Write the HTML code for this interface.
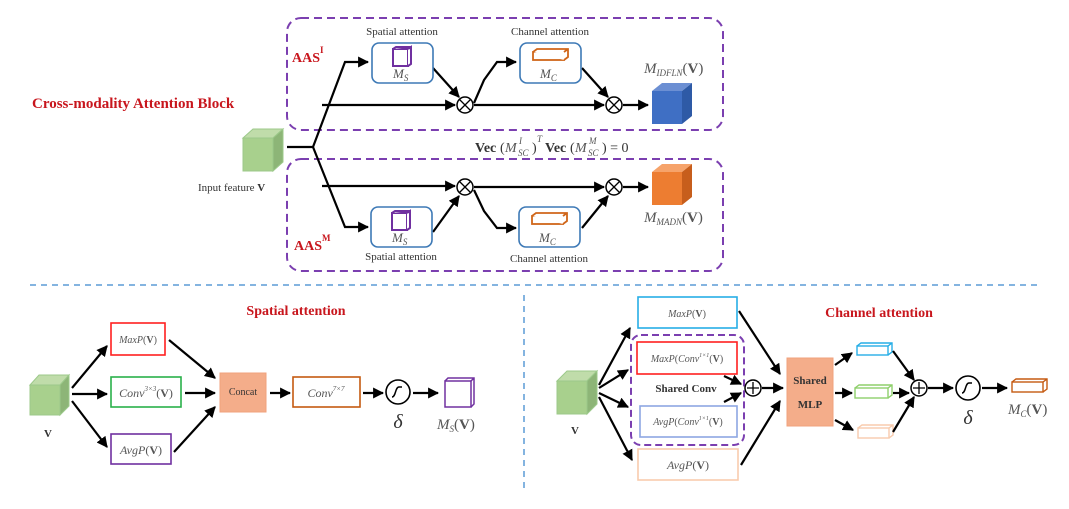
<!DOCTYPE html>
<html><head><meta charset="utf-8"><style>
html,body{margin:0;padding:0;background:#fff;}
svg{display:block;}
.m{font-family:"Liberation Serif",serif;font-style:italic;fill:#555;}
.t{font-family:"Liberation Serif",serif;fill:#333;}
.r{font-family:"Liberation Serif",serif;font-weight:bold;fill:#c8161d;}
</style></head><body>
<svg width="1069" height="509" viewBox="0 0 1069 509" xmlns="http://www.w3.org/2000/svg">
<defs>
<marker id="a" viewBox="0 0 10 10" refX="9" refY="5" markerWidth="5" markerHeight="5" orient="auto"><path d="M0,0L10,5L0,10z" fill="#000"/></marker>
</defs>
<g stroke="#000" stroke-width="2.5" fill="none">
<rect x="287" y="18" width="436" height="112" rx="14" stroke="#7b3fb0" stroke-width="2" stroke-dasharray="8,5"/>
<rect x="287" y="159" width="436" height="112" rx="14" stroke="#7b3fb0" stroke-width="2" stroke-dasharray="8,5"/>
</g>
<text x="32" y="108" class="r" font-size="15">Cross-modality Attention Block</text>
<g>
<polygon points="243,138 253,129 283,129 273,138" fill="#c0dcaa" stroke="#9cc98a"/>
<polygon points="273,138 283,129 283,162 273,171" fill="#8db577" stroke="#9cc98a"/>
<rect x="243" y="138" width="30" height="33" fill="#a8d08d" stroke="#9cc98a"/>
</g>
<text x="198" y="191" class="t" font-size="11">Input feature  <tspan font-weight="bold">V</tspan></text>
<g stroke="#000" stroke-width="2.2" fill="none">
<path d="M287,147H313"/>
<path d="M313,147L345,62H368" marker-end="url(#a)"/>
<path d="M322,105H455" marker-end="url(#a)"/>
<path d="M313,147L345,227H368" marker-end="url(#a)"/>
<path d="M322,186H455" marker-end="url(#a)"/>
<path d="M433,68L459,97" marker-end="url(#a)"/>
<path d="M474,103L484,80L497,62H516" marker-end="url(#a)"/>
<path d="M474,105H604" marker-end="url(#a)"/>
<path d="M582,68L608,97" marker-end="url(#a)"/>
<path d="M623,105H648" marker-end="url(#a)"/>
<path d="M433,232L459,196" marker-end="url(#a)"/>
<path d="M474,190L484,211L497,228H516" marker-end="url(#a)"/>
<path d="M474,187H604" marker-end="url(#a)"/>
<path d="M582,228L608,196" marker-end="url(#a)"/>
<path d="M623,187H648" marker-end="url(#a)"/>
</g>
<g fill="#fff" stroke="#000" stroke-width="1.5">
<circle cx="465" cy="105" r="8"/><circle cx="614" cy="105" r="8"/>
<circle cx="465" cy="187" r="8"/><circle cx="614" cy="187" r="8"/>
</g>
<g stroke="#000" stroke-width="1.3">
<path d="M459.5,99.5l11,11M470.5,99.5l-11,11"/>
<path d="M608.5,99.5l11,11M619.5,99.5l-11,11"/>
<path d="M459.5,181.5l11,11M470.5,181.5l-11,11"/>
<path d="M608.5,181.5l11,11M619.5,181.5l-11,11"/>
</g>
<g fill="#fff" stroke="#3d79b6" stroke-width="1.6">
<rect x="372" y="43" width="61" height="40" rx="7"/>
<rect x="520" y="43" width="61" height="40" rx="7"/>
<rect x="371" y="207" width="61" height="40" rx="7"/>
<rect x="519" y="207" width="61" height="40" rx="7"/>
</g>
<g fill="#fff" stroke="#7030a0" stroke-width="2">
<rect x="393" y="49" width="15" height="17"/><path d="M408,49l3,-2v17l-3,2M393,49l3,-2h15"/>
<rect x="392" y="213" width="15" height="17"/><path d="M407,213l3,-2v17l-3,2M392,213l3,-2h15"/>
</g>
<g fill="#fff" stroke="#d0661a" stroke-width="1.8">
<rect x="533" y="52" width="31" height="8"/><path d="M533,52l4,-3h31v8l-4,3M564,52l4,-3"/>
<rect x="532" y="216" width="31" height="8"/><path d="M532,216l4,-3h31v8l-4,3M563,216l4,-3"/>
</g>
<text x="393" y="78" class="m" font-size="13">M<tspan font-size="9" dy="3">S</tspan></text>
<text x="540" y="78" class="m" font-size="13">M<tspan font-size="9" dy="3">C</tspan></text>
<text x="392" y="242" class="m" font-size="13">M<tspan font-size="9" dy="3">S</tspan></text>
<text x="539" y="242" class="m" font-size="13">M<tspan font-size="9" dy="3">C</tspan></text>
<text x="402" y="35" class="t" font-size="11" text-anchor="middle">Spatial attention</text>
<text x="550" y="35" class="t" font-size="11" text-anchor="middle">Channel attention</text>
<text x="401" y="260" class="t" font-size="11" text-anchor="middle">Spatial attention</text>
<text x="549" y="262" class="t" font-size="11" text-anchor="middle">Channel attention</text>
<text x="292" y="62" class="r" font-size="14">AAS<tspan font-size="9" dy="-9">I</tspan></text>
<text x="294" y="250" class="r" font-size="14">AAS<tspan font-size="9" dy="-9">M</tspan></text>
<polygon points="652,91 662,83 692,83 682,91" fill="#6c8fd3"/>
<polygon points="682,91 692,83 692,116 682,124" fill="#2e5aa6"/>
<rect x="652" y="91" width="30" height="33" fill="#3f6fc4"/>
<polygon points="652,172 662,164 692,164 682,172" fill="#f6a36a"/>
<polygon points="682,172 692,164 692,197 682,205" fill="#c75e1c"/>
<rect x="652" y="172" width="30" height="33" fill="#ed7d31"/>
<text x="644" y="73" class="m" font-size="15">M<tspan font-size="9" dy="3">IDFLN</tspan><tspan dy="-3" font-style="normal">(</tspan><tspan font-style="normal" font-weight="bold">V</tspan><tspan font-style="normal">)</tspan></text>
<text x="644" y="222" class="m" font-size="15">M<tspan font-size="9" dy="3">MADN</tspan><tspan dy="-3" font-style="normal">(</tspan><tspan font-style="normal" font-weight="bold">V</tspan><tspan font-style="normal">)</tspan></text>
<!-- formula -->
<g class="t" font-size="14">
<text x="475" y="152" font-weight="bold" class="t">Vec</text>
<text x="500" y="152" class="t">(</text>
<text x="505" y="152" class="m">M</text>
<text x="518" y="156" class="m" font-size="9">SC</text>
<text x="519" y="144" class="m" font-size="9">I</text>
<text x="532" y="152" class="t">)</text>
<text x="537" y="142" class="m" font-size="9">T</text>
<text x="545" y="152" font-weight="bold" class="t">Vec</text>
<text x="570" y="152" class="t">(</text>
<text x="575" y="152" class="m">M</text>
<text x="588" y="156" class="m" font-size="9">SC</text>
<text x="589" y="144" class="m" font-size="9">M</text>
<text x="602" y="152" class="t">) = 0</text>
</g>
<path d="M30,285H1042" stroke="#5b9bd5" stroke-width="1.5" stroke-dasharray="6,5"/>
<path d="M524,295V490" stroke="#5b9bd5" stroke-width="1.5" stroke-dasharray="6,5"/>

<text x="296" y="315" class="r" font-size="14" text-anchor="middle">Spatial attention</text>
<polygon points="30,385 39,375 69,375 60,385" fill="#c0dcaa" stroke="#9cc98a"/>
<polygon points="60,385 69,375 69,406 60,415" fill="#8db577" stroke="#9cc98a"/>
<rect x="30" y="385" width="30" height="30" fill="#a8d08d" stroke="#9cc98a"/>
<text x="48" y="437" class="t" font-size="11" font-weight="bold" text-anchor="middle">V</text>
<rect x="111" y="323" width="54" height="32" fill="#fff" stroke="#ff2020" stroke-width="1.6"/>
<rect x="111" y="377" width="70" height="30" fill="#fff" stroke="#2ab04a" stroke-width="1.6"/>
<rect x="111" y="434" width="60" height="30" fill="#fff" stroke="#7030a0" stroke-width="1.6"/>
<text x="138" y="343" class="m" font-size="10" text-anchor="middle">MaxP<tspan font-style="normal">(</tspan><tspan font-style="normal" font-weight="bold">V</tspan><tspan font-style="normal">)</tspan></text>
<text x="146" y="397" class="m" font-size="12" text-anchor="middle">Conv<tspan font-size="7" dy="-6">3×3</tspan><tspan dy="6" font-style="normal">(</tspan><tspan font-style="normal" font-weight="bold">V</tspan><tspan font-style="normal">)</tspan></text>
<text x="141" y="454" class="m" font-size="12" text-anchor="middle">AvgP<tspan font-style="normal">(</tspan><tspan font-style="normal" font-weight="bold">V</tspan><tspan font-style="normal">)</tspan></text>
<rect x="220" y="373" width="46" height="39" fill="#f4ad8a" stroke="#f0a27c"/>
<text x="243" y="395" class="t" font-size="10" text-anchor="middle">Concat</text>
<rect x="293" y="377" width="67" height="30" fill="#fff" stroke="#c55a11" stroke-width="1.6"/>
<text x="326" y="397" class="m" font-size="12" text-anchor="middle">Conv<tspan font-size="7" dy="-6">7×7</tspan></text>
<circle cx="398" cy="392" r="12" fill="#fff" stroke="#000" stroke-width="1.6"/>
<path d="M392,397c4,0 3,-10 7,-10h3" stroke="#000" stroke-width="1.5" fill="none"/>
<text x="398" y="428" class="t" font-size="20" font-style="italic" text-anchor="middle">δ</text>
<rect x="445" y="381" width="26" height="26" fill="#fff" stroke="#7030a0" stroke-width="1.5"/>
<path d="M445,381l3,-3h26v26l-3,3M471,381l3,-3" stroke="#7030a0" stroke-width="1.5" fill="none"/>
<text x="437" y="429" class="m" font-size="15">M<tspan font-size="9" dy="3">S</tspan><tspan dy="-3" font-style="normal">(</tspan><tspan font-style="normal" font-weight="bold">V</tspan><tspan font-style="normal">)</tspan></text>
<g stroke="#000" stroke-width="2.2" fill="none">
<path d="M72,388L107,346" marker-end="url(#a)"/>
<path d="M72,394H107" marker-end="url(#a)"/>
<path d="M72,401L107,447" marker-end="url(#a)"/>
<path d="M169,340L215,378" marker-end="url(#a)"/>
<path d="M185,393H215" marker-end="url(#a)"/>
<path d="M174,452L215,407" marker-end="url(#a)"/>
<path d="M270,393H290" marker-end="url(#a)"/>
<path d="M363,393H383" marker-end="url(#a)"/>
<path d="M413,393H438" marker-end="url(#a)"/>
</g>

<text x="879" y="317" class="r" font-size="14" text-anchor="middle">Channel attention</text>
<rect x="638" y="297" width="99" height="31" fill="#fff" stroke="#27aee6" stroke-width="1.6"/>
<rect x="631" y="335" width="113" height="110" rx="10" fill="none" stroke="#7b3fb0" stroke-width="2" stroke-dasharray="7,4"/>
<rect x="637" y="342" width="100" height="32" fill="#fff" stroke="#ff2020" stroke-width="1.6"/>
<rect x="640" y="406" width="97" height="31" fill="#fff" stroke="#8ea7e2" stroke-width="1.6"/>
<rect x="638" y="449" width="100" height="31" fill="#fff" stroke="#f8cbad" stroke-width="1.6"/>
<text x="687" y="317" class="m" font-size="10" text-anchor="middle">MaxP<tspan font-style="normal">(</tspan><tspan font-style="normal" font-weight="bold">V</tspan><tspan font-style="normal">)</tspan></text>
<text x="687" y="362" class="m" font-size="10" text-anchor="middle">MaxP<tspan font-style="normal">(</tspan>Conv<tspan font-size="6" dy="-5">1×1</tspan><tspan dy="5" font-style="normal">(</tspan><tspan font-style="normal" font-weight="bold">V</tspan><tspan font-style="normal">)</tspan></text>
<text x="688" y="425" class="m" font-size="10" text-anchor="middle">AvgP<tspan font-style="normal">(</tspan>Conv<tspan font-size="6" dy="-5">1×1</tspan><tspan dy="5" font-style="normal">(</tspan><tspan font-style="normal" font-weight="bold">V</tspan><tspan font-style="normal">)</tspan></text>
<text x="688" y="469" class="m" font-size="12" text-anchor="middle">AvgP<tspan font-style="normal">(</tspan><tspan font-style="normal" font-weight="bold">V</tspan><tspan font-style="normal">)</tspan></text>
<text x="686" y="392" class="t" font-size="11" font-weight="bold" text-anchor="middle">Shared Conv</text>
<polygon points="557,381 567,371 597,371 587,381" fill="#c0dcaa" stroke="#9cc98a"/>
<polygon points="587,381 597,371 597,404 587,414" fill="#8db577" stroke="#9cc98a"/>
<rect x="557" y="381" width="30" height="33" fill="#a8d08d" stroke="#9cc98a"/>
<text x="575" y="434" class="t" font-size="11" font-weight="bold" text-anchor="middle">V</text>
<circle cx="753" cy="388" r="8" fill="#fff" stroke="#000" stroke-width="1.5"/>
<path d="M753,382v12M747,388h12" stroke="#000" stroke-width="1.3"/>
<rect x="787" y="358" width="46" height="68" fill="#f4ad8a" stroke="#f0a27c"/>
<text x="810" y="384" class="t" font-size="11" font-weight="bold" text-anchor="middle">Shared</text>
<text x="810" y="408" class="t" font-size="11" font-weight="bold" text-anchor="middle">MLP</text>
<g fill="#fff" stroke-width="1.4">
<g stroke="#27aee6"><rect x="857" y="346" width="31" height="9"/><path d="M857,346l4,-3h31v9l-4,3M888,346l4,-3" fill="none"/></g>
<g stroke="#8fcf6c"><rect x="855" y="388" width="33" height="10"/><path d="M855,388l4,-3h33v10l-4,3M888,388l4,-3" fill="none"/></g>
<g stroke="#f8cbad"><rect x="858" y="428" width="31" height="10"/><path d="M858,428l4,-3h31v10l-4,3M889,428l4,-3" fill="none"/></g>
<g stroke="#c55a11"><rect x="1012" y="382" width="31" height="10"/><path d="M1012,382l4,-3h31v10l-4,3M1043,382l4,-3" fill="none"/></g>
</g>
<circle cx="919" cy="388" r="8" fill="#fff" stroke="#000" stroke-width="1.5"/>
<path d="M919,382v12M913,388h12" stroke="#000" stroke-width="1.3"/>
<circle cx="968" cy="388" r="12" fill="#fff" stroke="#000" stroke-width="1.6"/>
<path d="M962,393c4,0 3,-10 7,-10h3" stroke="#000" stroke-width="1.5" fill="none"/>
<text x="968" y="424" class="t" font-size="20" font-style="italic" text-anchor="middle">δ</text>
<text x="1008" y="414" class="m" font-size="15">M<tspan font-size="9" dy="3">C</tspan><tspan dy="-3" font-style="normal">(</tspan><tspan font-style="normal" font-weight="bold">V</tspan><tspan font-style="normal">)</tspan></text>
<g stroke="#000" stroke-width="2.2" fill="none">
<path d="M599,385L630,328" marker-end="url(#a)"/>
<path d="M599,388L628,370" marker-end="url(#a)"/>
<path d="M599,393L628,407" marker-end="url(#a)"/>
<path d="M599,397L632,460" marker-end="url(#a)"/>
<path d="M739,311L780,374" marker-end="url(#a)"/>
<path d="M724,376L741,384" marker-end="url(#a)"/>
<path d="M724,402L741,393" marker-end="url(#a)"/>
<path d="M762,388H783" marker-end="url(#a)"/>
<path d="M741,465L780,401" marker-end="url(#a)"/>
<path d="M835,365L852,353" marker-end="url(#a)"/>
<path d="M835,393H852" marker-end="url(#a)"/>
<path d="M835,420L853,430" marker-end="url(#a)"/>
<path d="M893,351L914,380" marker-end="url(#a)"/>
<path d="M893,393H909" marker-end="url(#a)"/>
<path d="M893,432L914,397" marker-end="url(#a)"/>
<path d="M928,388H953" marker-end="url(#a)"/>
<path d="M982,388H1007" marker-end="url(#a)"/>
</g>
</svg>
</body></html>
